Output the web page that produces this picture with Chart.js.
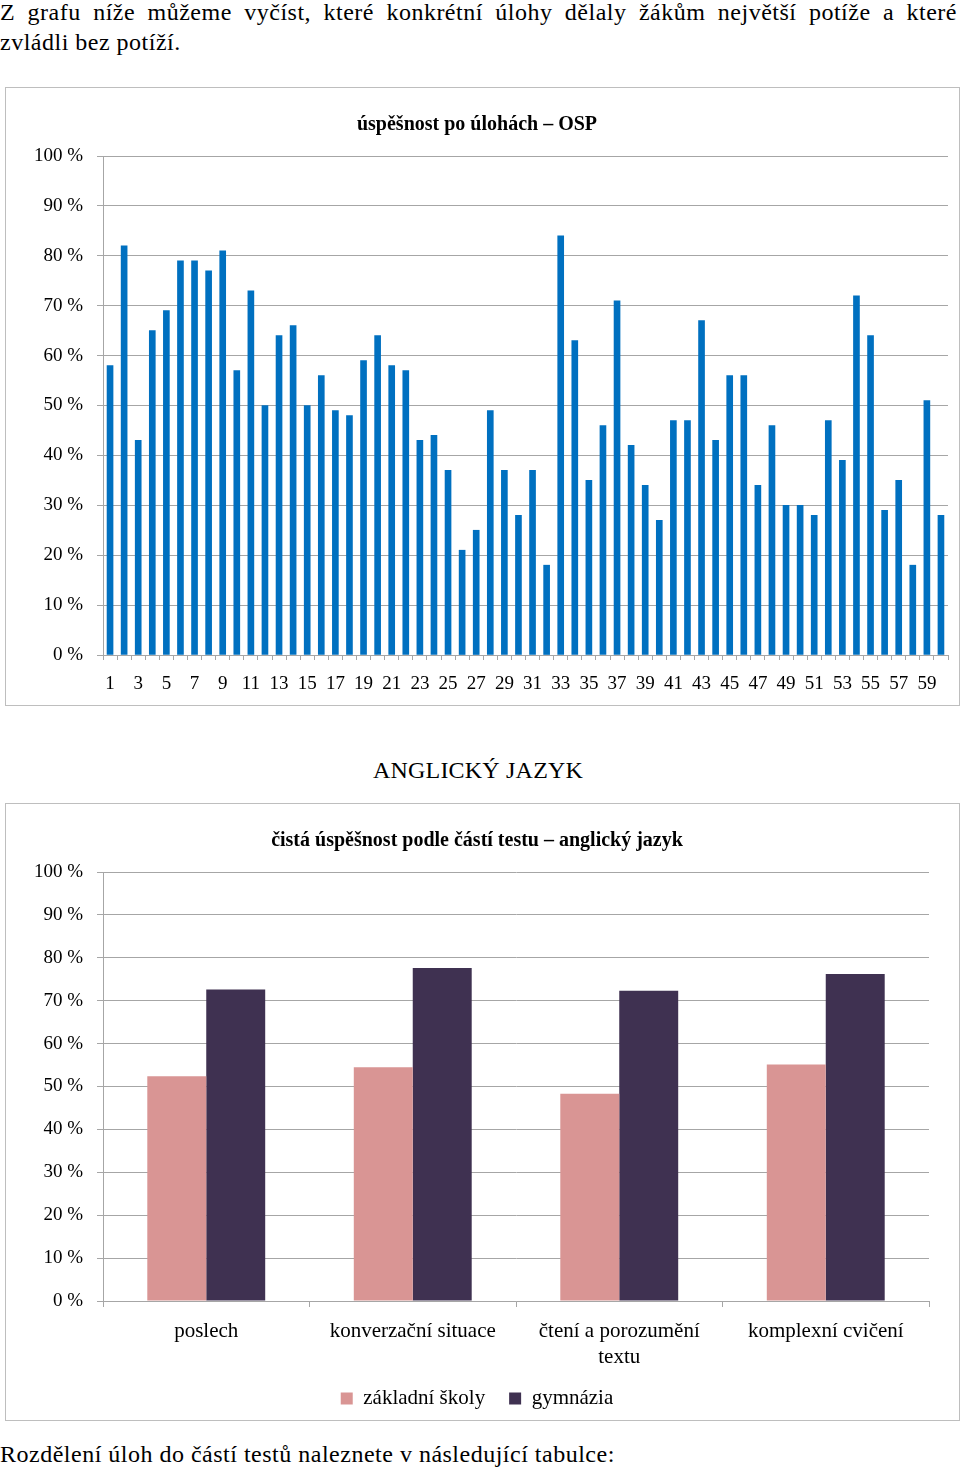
<!DOCTYPE html>
<html lang="cs">
<head>
<meta charset="utf-8">
<script src="https://cdn.jsdelivr.net/npm/chart.js@4.4.1/dist/chart.umd.min.js"></script>
<style>
    body { margin: 0; background: #fff; font-family: "Liberation Serif", serif; color: #000; }
    .page { position: relative; width: 960px; height: 1470px; overflow: hidden; }
    .txt { position: absolute; left: 0; width: 957px; font-size: 24px; line-height: 30px; letter-spacing: 0.5px; white-space: nowrap; }
    .justify { text-align: justify; text-align-last: justify; white-space: normal; }
    .box { position: absolute; left: 5px; width: 953px; border: 1px solid #BEBEBE; }
    .box canvas { display: block; }
    .heading { position: absolute; left: 0; width: 956px; top: 756px; text-align: center; font-size: 24px; line-height: 28px; letter-spacing: 0.2px; }
</style>
</head>
<body>
<div class="page">
    <div class="txt justify" style="top: -3px;">Z grafu níže můžeme vyčíst, které konkrétní úlohy dělaly žákům největší potíže a které</div>
    <div class="txt" style="top: 27px;">zvládli bez potíží.</div>

    <div class="box" style="top: 87px; height: 617px;">
        <canvas id="osp-chart" width="953" height="617"></canvas>
    </div>

    <div class="heading">ANGLICKÝ JAZYK</div>

    <div class="box" style="top: 803px; height: 616px;">
        <canvas id="aj-chart" width="953" height="616"></canvas>
    </div>

    <div class="txt" style="top: 1439px;">Rozdělení úloh do částí testů naleznete v následující tabulce:</div>
</div>

<script>
// úspěšnost po úlohách - OSP
const ospLabels = ['1','2','3','4','5','6','7','8','9','10','11','12','13','14','15','16','17','18','19','20',
    '21','22','23','24','25','26','27','28','29','30','31','32','33','34','35','36','37','38','39','40',
    '41','42','43','44','45','46','47','48','49','50','51','52','53','54','55','56','57','58','59','60'];
const ospValues = [58, 82, 43, 65, 69, 79, 79, 77, 81, 57, 73, 50, 64, 66, 50, 56, 49, 48, 59, 64,
    58, 57, 43, 44, 37, 21, 25, 49, 37, 28, 37, 18, 84, 63, 35, 46, 71, 42, 34, 27,
    47, 47, 67, 43, 56, 56, 34, 46, 30, 30, 28, 47, 39, 72, 64, 29, 35, 18, 51, 28];

// čistá úspěšnost podle částí testu - anglický jazyk
const ajLabels = ['poslech', 'konverzační situace', ['čtení a porozumění', 'textu'], 'komplexní cvičení'];
const ajZakladni = [52.4, 54.5, 48.3, 55.1];
const ajGymnazia = [72.6, 77.6, 72.3, 76.2];

const percentTicks = [0, 10, 20, 30, 40, 50, 60, 70, 80, 90, 100];

const gridColor = '#A6A6A6';
Chart.defaults.font.family = '"Liberation Serif", serif';
Chart.defaults.color = '#000';

function percentAxis(width) {
    return {
        min: 0,
        max: 100,
        afterBuildTicks: function(scale) {
            scale.ticks = percentTicks.map(v => ({ value: v }));
        },
        afterFit: function(scale) { scale.width = width; },
        ticks: {
            font: { size: 19 },
            padding: 14,
            callback: v => v + ' %'
        },
        grid: { color: gridColor, tickLength: 6 },
        border: { color: gridColor }
    };
}

new Chart(document.getElementById('osp-chart').getContext('2d'), {
    type: 'bar',
    data: {
        labels: ospLabels,
        datasets: [{ data: ospValues, backgroundColor: '#0070C0', barThickness: 6 }]
    },
    options: {
        responsive: false,
        animation: false,
        layout: { padding: { left: 0, right: 11, top: 0, bottom: 0 } },
        plugins: {
            legend: { display: false },
            tooltip: { enabled: false },
            title: {
                display: true,
                text: 'úspěšnost po úlohách – OSP',
                font: { size: 20, weight: 'bold' },
                color: '#000',
                padding: { top: 25, bottom: 19 }
            }
        },
        scales: {
            x: {
                afterFit: function(scale) { scale.height = 50; },
                grid: { offset: true, drawOnChartArea: false, tickLength: 5, color: gridColor },
                border: { color: gridColor },
                ticks: {
                    autoSkip: false,
                    maxRotation: 0,
                    font: { size: 19 },
                    padding: 13,
                    callback: function(value, index) {
                        return index % 2 === 0 ? this.getLabelForValue(value) : '';
                    }
                }
            },
            y: percentAxis(97)
        }
    }
});

new Chart(document.getElementById('aj-chart').getContext('2d'), {
    type: 'bar',
    data: {
        labels: ajLabels,
        datasets: [
            { label: 'základní školy', data: ajZakladni, backgroundColor: '#D99594' },
            { label: 'gymnázia', data: ajGymnazia, backgroundColor: '#3F3151' }
        ]
    },
    options: {
        responsive: false,
        animation: false,
        datasets: { bar: { barPercentage: 1, categoryPercentage: 0.571 } },
        layout: { padding: { left: 0, right: 11, top: 0, bottom: 1 } },
        plugins: {
            tooltip: { enabled: false },
            title: {
                display: true,
                text: 'čistá úspěšnost podle částí testu – anglický jazyk',
                font: { size: 20, weight: 'bold' },
                color: '#000',
                padding: { top: 25, bottom: 19 }
            },
            legend: {
                position: 'bottom',
                labels: {
                    boxWidth: 12,
                    boxHeight: 12,
                    padding: 24,
                    font: { size: 21 },
                    color: '#000'
                }
            }
        },
        scales: {
            x: {
                afterFit: function(scale) { scale.height = 63; },
                grid: { offset: true, drawOnChartArea: false, tickLength: 6, color: gridColor },
                border: { color: gridColor },
                ticks: {
                    autoSkip: false,
                    maxRotation: 0,
                    font: { size: 21, lineHeight: 1.25 },
                    padding: 11
                }
            },
            y: percentAxis(97),
            // empty space on the right of the plot, keeps title centred on the box
            spacer: {
                position: 'right',
                min: 0,
                max: 100,
                afterFit: function(scale) { scale.width = 19; },
                grid: { display: false },
                border: { display: false },
                ticks: { display: false }
            }
        }
    }
});
</script>
</body>
</html>
